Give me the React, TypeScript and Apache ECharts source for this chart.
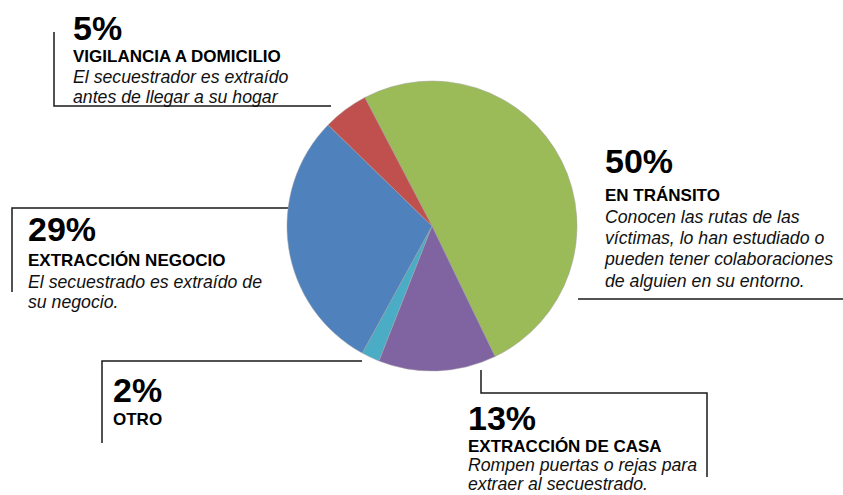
import React, { useEffect, useRef } from "react";
import * as echarts from "echarts";

const categories = ["EN TRÁNSITO", "EXTRACCIÓN DE CASA", "OTRO", "EXTRACCIÓN NEGOCIO", "VIGILANCIA A DOMICILIO"];
const values = [50, 13, 2, 29, 5];
const colors = ["#9BBB59", "#8064A2", "#4BACC6", "#4F81BD", "#C0504D"];
const descriptions = [
  ["Conocen las rutas de las", "víctimas, lo han estudiado o", "pueden tener colaboraciones", "de alguien en su entorno."],
  ["Rompen puertas o rejas para", "extraer al secuestrado."],
  [],
  ["El secuestrado es extraído de", "su negocio."],
  ["El secuestrador es extraído", "antes de llegar a su hogar"],
];

// label block layout: x, percent baseline, title baseline, first description baseline, line step
const blocks = [
  { x: 605, pb: 173, tb: 201, db: 223, step: 21.3 },
  { x: 468, pb: 430, tb: 452, db: 471, step: 19.5 },
  { x: 113, pb: 402, tb: 425, db: 0, step: 20 },
  { x: 28, pb: 241, tb: 266, db: 288, step: 20.5 },
  { x: 73, pb: 40, tb: 62, db: 83, step: 20.5 },
];

const leaderLines = [
  [[578, 299], [843, 299]],
  [[481, 370], [481, 393], [707, 393], [707, 477]],
  [[102, 443], [102, 361], [362, 361]],
  [[12, 292], [12, 208], [290, 208]],
  [[54, 32], [54, 106], [331, 106]],
];

const FONT = '"Liberation Sans", Arial, sans-serif';

export default function App() {
  const ref = useRef<HTMLDivElement>(null);
  useEffect(() => {
    if (!ref.current) return;
    const chart = echarts.init(ref.current, null, { renderer: "svg" });
    const graphics: any[] = [];
    leaderLines.forEach((pts) => {
      graphics.push({
        type: "polyline",
        shape: { points: pts },
        style: { stroke: "#1a1a1a", lineWidth: 1.5, fill: null },
        silent: true,
      });
    });
    categories.forEach((cat, i) => {
      const b = blocks[i];
      graphics.push({
        type: "text",
        x: b.x,
        y: b.pb - 12,
        style: {
          text: `${values[i]}%`,
          font: `bold 34px ${FONT}`,
          fill: "#000",
          textAlign: "left",
          textVerticalAlign: "middle",
        },
      });
      graphics.push({
        type: "text",
        x: b.x,
        y: b.tb - 6,
        style: {
          text: cat,
          font: `bold 17px ${FONT}`,
          fill: "#000",
          textAlign: "left",
          textVerticalAlign: "middle",
        },
      });
      descriptions[i].forEach((line, j) => {
        graphics.push({
          type: "text",
          x: b.x,
          y: b.db + j * b.step - 6.3,
          style: {
            text: line,
            font: `italic 17.7px ${FONT}`,
            fill: "#111",
            textAlign: "left",
            textVerticalAlign: "middle",
          },
        });
      });
    });
    chart.setOption({
      animation: false,
      backgroundColor: "#fff",
      color: colors,
      series: [
        {
          type: "pie",
          center: [432, 226],
          radius: 145,
          startAngle: 117.6,
          clockwise: true,
          silent: true,
          label: { show: false },
          labelLine: { show: false },
          itemStyle: { borderColor: "#a0a0a0", borderWidth: 0.5 },
          data: categories.map((c, i) => ({ name: c, value: values[i] })),
        },
      ],
      graphic: graphics,
    });
    return () => chart.dispose();
  }, []);
  return <div ref={ref} style={{ position: "fixed", left: 0, top: 0, width: 843, height: 495 }} />;
}
